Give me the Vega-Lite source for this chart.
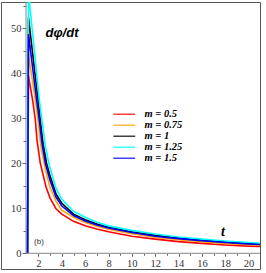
{
  "$schema": "https://vega.github.io/schema/vega-lite/v6.json",
  "autosize": {"type": "none"},
  "padding": {"left": 1, "top": 2, "right": 6, "bottom": 4},
  "width": 259,
  "height": 267,
  "background": "white",
  "config": {
    "view": {"stroke": "#555555", "strokeWidth": 1},
    "axis": {"grid": false}
  },
  "resolve": {"axis": {"x": "independent", "y": "independent"}},
  "layer": [
    {
      "data": {"values": [
        {"m": "m = 0.5", "t": 1.06, "v": 0},
        {"m": "m = 0.5", "t": 1.14, "v": 39.5},
        {"m": "m = 0.5", "t": 1.53, "v": 33.5},
        {"m": "m = 0.5", "t": 1.73, "v": 29.6},
        {"m": "m = 0.5", "t": 1.87, "v": 25.2},
        {"m": "m = 0.5", "t": 2.15, "v": 20.1},
        {"m": "m = 0.5", "t": 2.64, "v": 14.8},
        {"m": "m = 0.5", "t": 3, "v": 12.2},
        {"m": "m = 0.5", "t": 3.5, "v": 9.9},
        {"m": "m = 0.5", "t": 4, "v": 8.7},
        {"m": "m = 0.5", "t": 5, "v": 7.1},
        {"m": "m = 0.5", "t": 6, "v": 6.1},
        {"m": "m = 0.5", "t": 7, "v": 5.4},
        {"m": "m = 0.5", "t": 8, "v": 4.8},
        {"m": "m = 0.5", "t": 10, "v": 3.8},
        {"m": "m = 0.5", "t": 12, "v": 3.15},
        {"m": "m = 0.5", "t": 14, "v": 2.6},
        {"m": "m = 0.5", "t": 16, "v": 2.2},
        {"m": "m = 0.5", "t": 18, "v": 1.85},
        {"m": "m = 0.5", "t": 20, "v": 1.6},
        {"m": "m = 0.5", "t": 21, "v": 1.5},

        {"m": "m = 0.75", "t": 1.06, "v": 0},
        {"m": "m = 0.75", "t": 1.14, "v": 44.2},
        {"m": "m = 0.75", "t": 1.73, "v": 34.1},
        {"m": "m = 0.75", "t": 1.96, "v": 29.6},
        {"m": "m = 0.75", "t": 2.2, "v": 23.8},
        {"m": "m = 0.75", "t": 2.6, "v": 18.5},
        {"m": "m = 0.75", "t": 3, "v": 14.5},
        {"m": "m = 0.75", "t": 3.5, "v": 11.6},
        {"m": "m = 0.75", "t": 4, "v": 9.6},
        {"m": "m = 0.75", "t": 5, "v": 8.0},
        {"m": "m = 0.75", "t": 6, "v": 6.85},
        {"m": "m = 0.75", "t": 7, "v": 6.0},
        {"m": "m = 0.75", "t": 8, "v": 5.35},
        {"m": "m = 0.75", "t": 10, "v": 4.37},
        {"m": "m = 0.75", "t": 12, "v": 3.6},
        {"m": "m = 0.75", "t": 14, "v": 3.04},
        {"m": "m = 0.75", "t": 16, "v": 2.57},
        {"m": "m = 0.75", "t": 18, "v": 2.21},
        {"m": "m = 0.75", "t": 20, "v": 1.9},
        {"m": "m = 0.75", "t": 21, "v": 1.78},

        {"m": "m = 1", "t": 1.06, "v": 0},
        {"m": "m = 1", "t": 1.14, "v": 52.4},
        {"m": "m = 1", "t": 1.96, "v": 34.1},
        {"m": "m = 1", "t": 2.15, "v": 29.6},
        {"m": "m = 1", "t": 2.4, "v": 24.2},
        {"m": "m = 1", "t": 2.7, "v": 19.9},
        {"m": "m = 1", "t": 3, "v": 17.1},
        {"m": "m = 1", "t": 3.5, "v": 13.2},
        {"m": "m = 1", "t": 4, "v": 11.1},
        {"m": "m = 1", "t": 5, "v": 8.7},
        {"m": "m = 1", "t": 6, "v": 7.45},
        {"m": "m = 1", "t": 7, "v": 6.5},
        {"m": "m = 1", "t": 8, "v": 5.8},
        {"m": "m = 1", "t": 10, "v": 4.78},
        {"m": "m = 1", "t": 12, "v": 3.98},
        {"m": "m = 1", "t": 14, "v": 3.4},
        {"m": "m = 1", "t": 16, "v": 2.92},
        {"m": "m = 1", "t": 18, "v": 2.51},
        {"m": "m = 1", "t": 20, "v": 2.19},
        {"m": "m = 1", "t": 21, "v": 2.05},

        {"m": "m = 1.25", "t": 1.06, "v": 0},
        {"m": "m = 1.25", "t": 1.14, "v": 58},
        {"m": "m = 1.25", "t": 2.07, "v": 34.1},
        {"m": "m = 1.25", "t": 2.3, "v": 29.6},
        {"m": "m = 1.25", "t": 2.55, "v": 24.4},
        {"m": "m = 1.25", "t": 2.9, "v": 19.8},
        {"m": "m = 1.25", "t": 3.5, "v": 14.4},
        {"m": "m = 1.25", "t": 4, "v": 12.0},
        {"m": "m = 1.25", "t": 5, "v": 9.3},
        {"m": "m = 1.25", "t": 6, "v": 8.0},
        {"m": "m = 1.25", "t": 7, "v": 6.9},
        {"m": "m = 1.25", "t": 8, "v": 6.09},
        {"m": "m = 1.25", "t": 10, "v": 5.09},
        {"m": "m = 1.25", "t": 12, "v": 4.29},
        {"m": "m = 1.25", "t": 14, "v": 3.63},
        {"m": "m = 1.25", "t": 16, "v": 3.14},
        {"m": "m = 1.25", "t": 18, "v": 2.73},
        {"m": "m = 1.25", "t": 20, "v": 2.39},
        {"m": "m = 1.25", "t": 21, "v": 2.24},

        {"m": "m = 1.5", "t": 1.06, "v": 0},
        {"m": "m = 1.5", "t": 1.14, "v": 48.7},
        {"m": "m = 1.5", "t": 1.84, "v": 34.1},
        {"m": "m = 1.5", "t": 2.07, "v": 29.6},
        {"m": "m = 1.5", "t": 2.3, "v": 24.4},
        {"m": "m = 1.5", "t": 2.6, "v": 19.9},
        {"m": "m = 1.5", "t": 3, "v": 16.1},
        {"m": "m = 1.5", "t": 3.5, "v": 12.5},
        {"m": "m = 1.5", "t": 4, "v": 10.5},
        {"m": "m = 1.5", "t": 5, "v": 8.4},
        {"m": "m = 1.5", "t": 6, "v": 7.2},
        {"m": "m = 1.5", "t": 7, "v": 6.28},
        {"m": "m = 1.5", "t": 8, "v": 5.63},
        {"m": "m = 1.5", "t": 10, "v": 4.63},
        {"m": "m = 1.5", "t": 12, "v": 3.8},
        {"m": "m = 1.5", "t": 14, "v": 3.26},
        {"m": "m = 1.5", "t": 16, "v": 2.78},
        {"m": "m = 1.5", "t": 18, "v": 2.4},
        {"m": "m = 1.5", "t": 20, "v": 2.08},
        {"m": "m = 1.5", "t": 21, "v": 1.94}
      ]},
      "mark": {"type": "line", "strokeWidth": 1.6, "clip": true},
      "encoding": {
        "x": {
          "field": "t", "type": "quantitative",
          "scale": {"domain": [-1.213, 20.98], "nice": false, "zero": false},
          "axis": {
            "orient": "bottom",
            "offset": -15.7,
            "domain": false,
            "values": [2,3,4,5,6,7,8,9,10,11,12,13,14,15,16,17,18,19,20],
            "labelExpr": "datum.value % 2 === 0 ? datum.label : ''",
            "labelOverlap": false,
            "tickSize": {"condition": {"test": "datum.value % 2 === 0", "value": 3}, "value": 2},
            "tickColor": "#666666",
            "labelColor": "#333333",
            "labelFont": "Liberation Serif",
            "labelFontSize": 10.5,
            "labelPadding": 2,
            "title": "t",
            "titleFont": "Liberation Serif",
            "titleFontStyle": "italic",
            "titleFontWeight": "bold",
            "titleFontSize": 14,
            "titleColor": "#000000",
            "titleX": 221.5,
            "titleY": -18,
            "titleAlign": "center",
            "titleBaseline": "alphabetic"
          }
        },
        "y": {
          "field": "v", "type": "quantitative",
          "scale": {"domain": [-3.49, 55.84], "nice": false, "zero": false},
          "axis": {
            "orient": "left",
            "offset": -25,
            "domain": false,
            "values": [0,5,10,15,20,25,30,35,40,45,50,55],
            "labelExpr": "datum.value % 10 === 0 ? datum.label : ''",
            "labelOverlap": false,
            "tickSize": {"condition": {"test": "datum.value % 10 === 0", "value": 4}, "value": 3},
            "tickColor": "#666666",
            "labelColor": "#333333",
            "labelFont": "Liberation Serif",
            "labelFontSize": 10.5,
            "labelPadding": 1,
            "title": "dφ/dt",
            "titleAngle": 0,
            "titleFont": "Liberation Sans",
            "titleFontStyle": "italic",
            "titleFontWeight": "bold",
            "titleFontSize": 13,
            "titleColor": "#000000",
            "titleX": 19,
            "titleY": 34,
            "titleAlign": "left",
            "titleBaseline": "alphabetic"
          }
        },
        "color": {
          "field": "m", "type": "nominal",
          "scale": {
            "domain": ["m = 0.5", "m = 0.75", "m = 1", "m = 1.25", "m = 1.5"],
            "range": ["#ff0000", "#ffa500", "#000000", "#00ffff", "#0000ff"]
          },
          "legend": {
            "orient": "none",
            "legendX": 118,
            "legendY": 107,
            "title": null,
            "symbolType": "M-4,0H4",
            "symbolSize": 30,
            "symbolStrokeWidth": 1.5,
            "symbolOpacity": 0.75,
            "labelFont": "Liberation Serif",
            "labelFontSize": 10.5,
            "labelFontStyle": "italic",
            "labelFontWeight": "bold",
            "labelColor": "#000000",
            "labelOffset": 15,
            "rowPadding": -2,
            "padding": 0
          }
        }
      }
    },
    {
      "data": {"values": [{}]},
      "mark": {"type": "rule", "color": "#888888", "strokeWidth": 1},
      "encoding": {
        "x": {"datum": 0.93, "type": "quantitative", "axis": null},
        "y": {"datum": 0, "type": "quantitative", "axis": null},
        "y2": {"datum": 55.84}
      }
    },
    {
      "data": {"values": [{}]},
      "mark": {"type": "rule", "color": "#888888", "strokeWidth": 1},
      "encoding": {
        "y": {"datum": 0, "type": "quantitative", "axis": null},
        "x": {"datum": 0.93, "type": "quantitative", "axis": null},
        "x2": {"datum": 20.98}
      }
    },
    {
      "data": {"values": [{"label": "(b)"}]},
      "mark": {"type": "text", "font": "Liberation Sans", "fontSize": 8, "color": "#333333"},
      "encoding": {
        "x": {"datum": 2.04, "type": "quantitative", "axis": null},
        "y": {"datum": 2.5, "type": "quantitative", "axis": null},
        "text": {"field": "label"}
      }
    }
  ]
}
